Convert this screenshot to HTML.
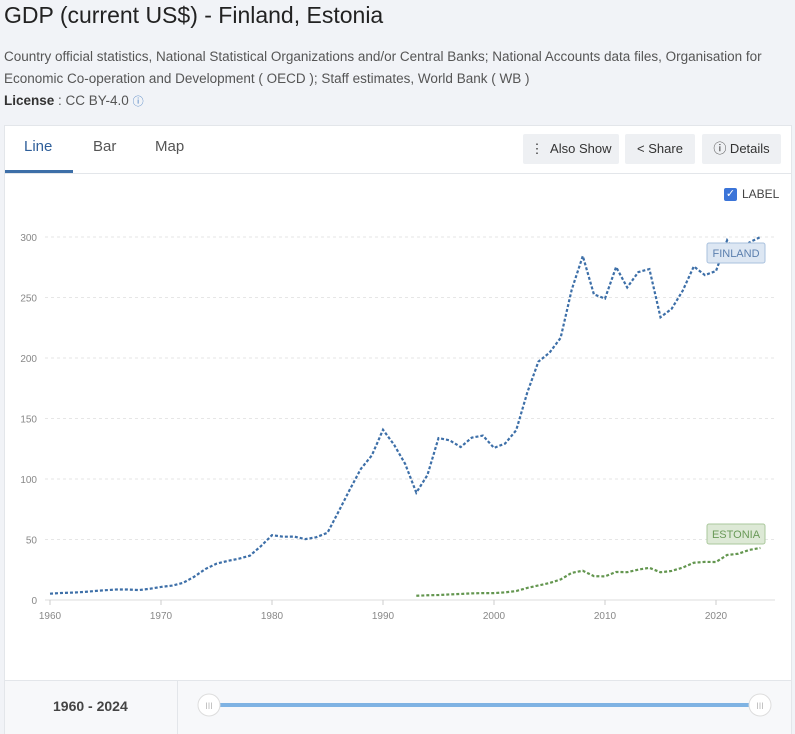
<!DOCTYPE html>
<html><head><meta charset="utf-8"><style>
body{margin:0;width:795px;height:732px;background:#f1f3f7;font-family:"Liberation Sans",sans-serif;overflow:hidden;position:relative}
.t{position:absolute;left:4px;top:2px;font-size:23px;color:#222}
.s{position:absolute;left:4px;top:46px;width:780px;font-size:13.5px;line-height:22px;color:#555}
.card{position:absolute;left:4px;top:125px;width:786px;height:607px;background:#fff;border:1px solid #e3e6ea}
.tab{position:absolute;top:12px;font-size:15px;color:#555}
.btn{position:absolute;top:8px;height:30px;background:#eef0f3;border-radius:2px;font-size:13px;color:#333;line-height:30px;text-align:center}
.bot{position:absolute;left:0;top:554px;width:786px;height:53px;background:#f7f8fa;border-top:1px solid #e3e6ea}
</style></head><body>
<div class="t">GDP (current US$) - Finland, Estonia</div>
<div class="s">Country official statistics, National Statistical Organizations and/or Central Banks; National Accounts data files, Organisation for Economic Co-operation and Development ( OECD ); Staff estimates, World Bank ( WB )<br><b style="color:#333">License</b> : CC BY-4.0 <span style="color:#4a7fc1;font-size:11px">ⓘ</span></div>
<div class="card">
<div class="tab" style="left:19px;color:#2f5f9a">Line</div>
<div class="tab" style="left:88px">Bar</div>
<div class="tab" style="left:150px">Map</div>
<div style="position:absolute;left:0;top:44px;width:68px;height:3px;background:#3d6fa8"></div>
<div style="position:absolute;left:0;top:47px;width:786px;height:1px;background:#e3e6ea"></div>
<div class="btn" style="left:518px;width:96px">⋮&nbsp; Also Show</div>
<div class="btn" style="left:620px;width:70px">&lt; Share</div>
<div class="btn" style="left:697px;width:79px">ⓘ Details</div>
<div style="position:absolute;left:719px;top:62px;width:13px;height:13px;background:#3b74d8;border-radius:2px;color:#fff;font-size:11px;line-height:13px;text-align:center">✓</div>
<div style="position:absolute;left:737px;top:61px;font-size:12px;color:#444">LABEL</div>
<div class="bot"><div style="position:absolute;left:172px;top:0;width:1px;height:53px;background:#e3e6ea"></div>
<div style="position:absolute;left:48px;top:17px;font-size:14px;font-weight:bold;color:#444">1960 - 2024</div></div>
</div>
<svg id="c" width="795" height="732" style="position:absolute;left:0;top:0" font-family="Liberation Sans, sans-serif">
<line x1="208" y1="705" x2="760" y2="705" stroke="#7fb3e3" stroke-width="4"/>
<circle cx="209" cy="705" r="11" fill="#fff" stroke="#ddd"/><circle cx="760" cy="705" r="11" fill="#fff" stroke="#ddd"/>
<text x="209" y="709" font-size="9" fill="#bbb" text-anchor="middle">III</text>
<text x="760" y="709" font-size="9" fill="#bbb" text-anchor="middle">III</text>
</svg>
<script>
var s=document.getElementById('c'),ns='http://www.w3.org/2000/svg',h='';
function X(y){return 50+(y-1960)*11.1}function Y(v){return 600-v*1.21}
for(var v=0;v<=300;v+=50){h+='<line x1="45" x2="775" y1="'+Y(v)+'" y2="'+Y(v)+'" stroke="'+(v?'#e6e6e6':'#ddd')+'" '+(v?'stroke-dasharray="3,3"':'')+'/>';h+='<text x="37" y="'+(Y(v)+4)+'" font-size="10" fill="#888" text-anchor="end">'+v+'</text>';}
for(var y=1960;y<=2020;y+=10){h+='<line x1="'+X(y)+'" x2="'+X(y)+'" y1="600" y2="605" stroke="#ccc"/><text x="'+X(y)+'" y="619" font-size="10" fill="#888" text-anchor="middle">'+y+'</text>';}
var F=[5.2,5.8,6.1,6.6,7.4,8.1,8.7,8.7,8.2,9.3,10.8,11.9,14.2,19.3,25.6,30,32.3,34.1,36.6,44.5,53.6,52.3,52.4,50.3,51.9,55.6,73.1,91.1,108.3,119.6,140.7,128.3,112.4,88.7,103.2,133.8,132,126.4,134.2,135.9,125.7,129.3,140.3,171.5,197,204.4,216.6,256.4,284.3,252.6,249.1,275.2,258.3,271,273.5,233.7,240.6,255.6,275.7,268.5,271.9,297.3,283,295.5,300];
var E=[3.5,3.9,4.1,4.6,5,5.5,5.7,5.7,6.3,7.4,10,12,14,17,22.4,24.2,19.7,19.5,23.2,23,25.1,26.6,22.9,24,26.8,30.8,31.5,31.4,37.2,38.2,41.4,43];
function P(d,st,c){return '<polyline fill="none" stroke="'+c+'" stroke-width="2.2" stroke-dasharray="3,2" points="'+d.map(function(v,i){return X(st+i)+','+Y(v)}).join(' ')+'"/>'}
h+=P(F,1960,'#3d6fa8')+P(E,1993,'#63964f');
h+='<rect x="707" y="243" width="58" height="20" rx="2" fill="#dde7f3" stroke="#a9c1de"/><text x="736" y="257" font-size="11" fill="#5b7fae" text-anchor="middle">FINLAND</text>';
h+='<rect x="707" y="524" width="58" height="20" rx="2" fill="#dde9d6" stroke="#aac89c"/><text x="736" y="538" font-size="11" fill="#6a9a58" text-anchor="middle">ESTONIA</text>';
s.insertAdjacentHTML('beforeend',h);
</script>
</body></html>
